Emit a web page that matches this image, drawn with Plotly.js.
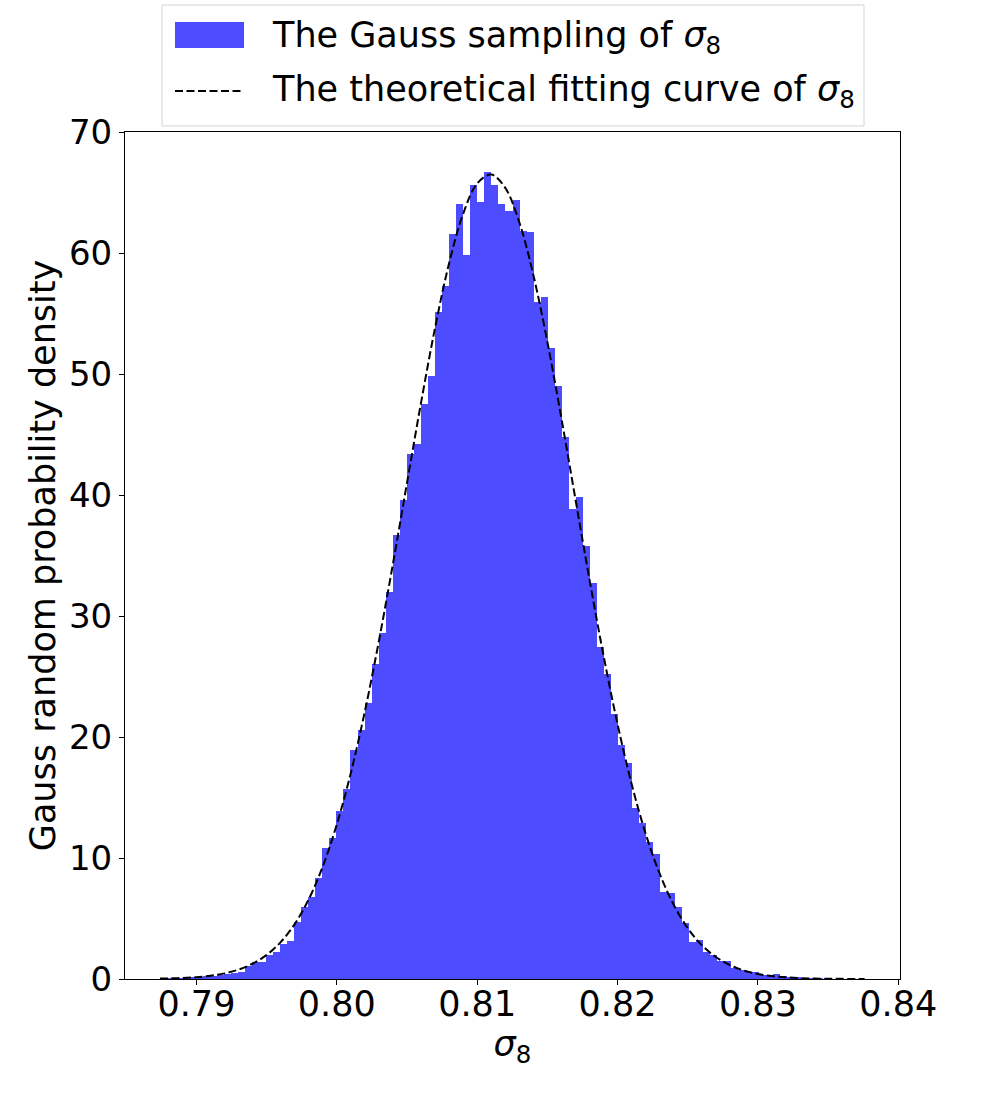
<!DOCTYPE html>
<html><head><meta charset="utf-8">
<script src="https://cdn.plot.ly/plotly-3.0.1.min.js"></script>
<style>html,body{margin:0;padding:0;background:#fff}</style>
</head><body><div id="chart" style="width:1000px;height:1100px"></div>
<script>
// Histogram: 100 bins (density), left edge of first bin and bin width
const binStart = 0.787420;
const binWidth = 0.00050191;
const density = [
  0.03, 0.05, 0.08, 0.12, 0.16, 0.19, 0.26, 0.28, 0.31, 0.42,
  0.53, 0.57, 1.04, 1.38, 1.42, 1.95, 2.23, 2.92, 3.12, 4.68,
  5.98, 6.74, 8.36, 10.80, 11.62, 13.92, 15.69, 18.90, 20.62, 22.79,
  26.00, 28.57, 31.96, 36.70, 39.60, 43.39, 44.23, 47.54, 49.83, 55.12,
  57.27, 61.55, 64.06, 59.87, 65.62, 64.21, 66.66, 65.62, 64.06, 63.47,
  64.38, 61.79, 61.73, 55.97, 56.36, 52.14, 49.01, 44.82, 38.83, 39.80,
  35.82, 32.70, 27.44, 25.20, 21.93, 19.32, 17.86, 14.14, 12.86, 11.29,
  10.31, 7.20, 7.10, 5.91, 4.60, 3.03, 3.25, 2.20, 2.00, 1.48,
  1.45, 0.91, 0.77, 0.60, 0.56, 0.37, 0.35, 0.44, 0.24, 0.20,
  0.14, 0.10, 0.07, 0.05, 0.04, 0.03, 0.02, 0.01, 0.01, 0.01
];
// Theoretical fitting curve
const curveX = [0.7874, 0.788, 0.789, 0.790, 0.791, 0.792, 0.793, 0.794, 0.795, 0.796,
  0.797, 0.798, 0.799, 0.800, 0.801, 0.802, 0.803, 0.804, 0.805, 0.806,
  0.807, 0.808, 0.809, 0.810, 0.811, 0.812, 0.813, 0.814, 0.815, 0.816,
  0.817, 0.818, 0.819, 0.820, 0.821, 0.822, 0.823, 0.824, 0.825, 0.826,
  0.827, 0.828, 0.829, 0.830, 0.831, 0.832, 0.833, 0.834, 0.835, 0.836,
  0.837, 0.8376];
const curveY = [0.031, 0.046, 0.085, 0.154, 0.27, 0.465, 0.777, 1.26, 1.99, 3.05,
  4.54, 6.59, 9.30, 12.77, 17.04, 22.13, 27.95, 34.32, 41.00, 47.63,
  53.82, 59.16, 63.24, 65.75, 66.48, 65.38, 62.54, 58.18, 52.65, 46.33,
  39.65, 33.01, 26.73, 21.05, 16.12, 12.01, 8.70, 6.13, 4.20, 2.80,
  1.82, 1.15, 0.70, 0.42, 0.24, 0.137, 0.075, 0.040, 0.021, 0.011,
  0.005, 0.003];
const xTicks = [0.79, 0.80, 0.81, 0.82, 0.83, 0.84];
const xTickText = ['0.79', '0.80', '0.81', '0.82', '0.83', '0.84'];
const yTicks = [0, 10, 20, 30, 40, 50, 60, 70];
const legendLabels = ['The Gauss sampling of <i>σ</i><sub>8</sub>',
                      'The theoretical fitting curve of <i>σ</i><sub>8</sub>'];

const BLUE = '#4d4dff';
const FONT = 'DejaVu Sans, Liberation Sans, sans-serif';
const FS = 34;
const LFS = 35;
const M = {l: 125, r: 100, t: 132, b: 121};
const W = 1000 - M.l - M.r, H = 1100 - M.t - M.b;
const px = v => (v - M.l) / W;
const py = v => (1100 - M.b - v) / H;

const traces = [
  {type: 'bar', x0: binStart + binWidth / 2, dx: binWidth, y: density,
   width: binWidth, marker: {color: BLUE, line: {width: 0}}, showlegend: false,
   hoverinfo: 'skip'},
  {type: 'scatter', mode: 'lines', x: curveX, y: curveY,
   line: {color: 'black', width: 2, dash: '8px,3.5px', shape: 'spline'},
   showlegend: false, hoverinfo: 'skip'}
];

const layout = {
  width: 1000, height: 1100,
  margin: M,
  paper_bgcolor: 'white', plot_bgcolor: 'white',
  font: {family: FONT, size: FS, color: 'black'},
  bargap: 0,
  showlegend: false,
  xaxis: {range: [0.78491, 0.84012], tickvals: xTicks, ticktext: xTickText,
    ticks: 'outside', ticklen: 5, tickwidth: 1, tickcolor: 'black',
    ticklabelstandoff: -11,
    showline: true, linecolor: 'black', linewidth: 1, mirror: true,
    showgrid: false, zeroline: false,
    tickfont: {family: FONT, size: 35, color: 'black'},
    title: {text: '<i>σ</i><sub>8</sub>', font: {family: FONT, size: 35, color: 'black'}, standoff: 4}},
  yaxis: {range: [0, 70], tickvals: yTicks,
    ticks: 'outside', ticklen: 5, tickwidth: 1, tickcolor: 'black',
    showline: true, linecolor: 'black', linewidth: 1, mirror: true,
    showgrid: false, zeroline: false,
    tickfont: {family: FONT, size: FS, color: 'black'},
    title: {text: 'Gauss random probability density', font: {family: FONT, size: 35, color: 'black'}, standoff: 2}},
  shapes: [
    {type: 'rect', xref: 'paper', yref: 'paper', x0: px(162), x1: px(864), y0: py(126), y1: py(5),
     line: {color: '#d4d4d4', width: 1}, fillcolor: 'white', layer: 'above'},
    {type: 'rect', xref: 'paper', yref: 'paper', x0: px(175), x1: px(244), y0: py(48), y1: py(22),
     line: {width: 0}, fillcolor: BLUE, layer: 'above'},
    {type: 'line', xref: 'paper', yref: 'paper', x0: px(175), x1: px(244), y0: py(91), y1: py(91),
     line: {color: 'black', width: 2, dash: '8px,3.5px'}, layer: 'above'}
  ],
  annotations: [
    {xref: 'paper', yref: 'paper', x: px(270), y: py(37), xanchor: 'left', yanchor: 'middle',
     text: legendLabels[0], showarrow: false, font: {family: FONT, size: LFS, color: 'black'}},
    {xref: 'paper', yref: 'paper', x: px(270), y: py(92), xanchor: 'left', yanchor: 'middle',
     text: legendLabels[1], showarrow: false, font: {family: FONT, size: LFS, color: 'black'}}
  ]
};

Plotly.newPlot('chart', traces, layout, {staticPlot: true, displayModeBar: false});
</script>
</body></html>
